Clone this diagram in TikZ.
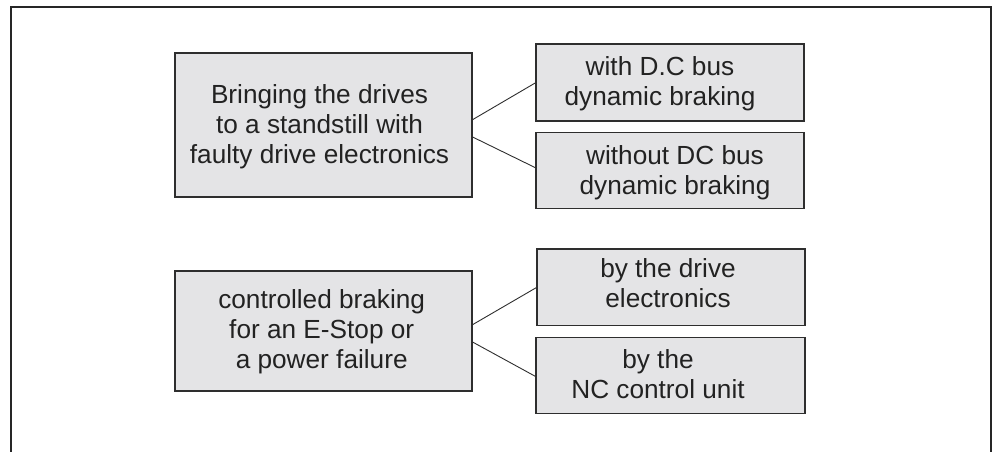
\documentclass[tikz,border=0pt]{standalone}
\usepackage{fontspec}
\setmainfont{Liberation Sans}
\definecolor{boxfill}{HTML}{E4E4E6}
\definecolor{boxline}{HTML}{2E2E2E}
\definecolor{textcol}{HTML}{222222}
\definecolor{framecol}{HTML}{262626}
\begin{document}
\begin{tikzpicture}[x=1pt,y=-1pt,
  box/.style={draw=boxline, fill=boxfill, line width=1.1pt, rectangle, inner sep=0pt, outer sep=0pt},
  lbl/.style={font=\fontsize{26.2}{30}\selectfont, align=center, anchor=base, inner sep=0pt, text=textcol},
  link/.style={draw=boxline, line width=0.9pt},
  frame/.style={draw=framecol, line width=2pt}]
\useasboundingbox (0,0) rectangle (996,451);
\draw[frame] (10.7,470) -- (10.7,7) -- (991,7) -- (991,470);
% boxes
\node[box, minimum width=297pt, minimum height=144pt] (a) at (323.5,125) {};
\node[box, minimum width=268pt, minimum height=77pt] (b1) at (670,82.5) {};
\node[box, minimum width=268pt, minimum height=76pt] (b2) at (670,170.4) {};
\node[box, minimum width=297pt, minimum height=120pt] (c) at (323.5,331) {};
\node[box, minimum width=268pt, minimum height=76.5pt] (d1) at (671,287.2) {};
\node[box, minimum width=269pt, minimum height=75.6pt] (d2) at (670.5,375.5) {};
% texts (anchored at the baseline of the last line)
\node[lbl] (ta) at (319.5,163.5) {Bringing the drives\\to a standstill with\\faulty drive electronics};
\node[lbl] (tb1) at (660,105) {with D.C bus\\dynamic braking};
\node[lbl] (tb2) at (675,194) {without DC bus\\dynamic braking};
\node[lbl] (tc) at (321.7,368) {controlled braking\\for an E-Stop or\\a power failure};
\node[lbl] (td1) at (668,307.5) {by the drive\\electronics};
\node[lbl] (td2) at (658,398.5) {by the\\NC control unit};
% connectors
\draw[link] ([yshift=5pt]a.east) -- (b1.west);
\draw[link] ([yshift=-11.7pt]a.east) -- ([yshift=2.4pt]b2.west);
\draw[link] ([yshift=6pt]c.east) -- (d1.west);
\draw[link] ([yshift=-10.7pt]c.east) -- ([yshift=-1.2pt]d2.west);
\end{tikzpicture}
\end{document}
